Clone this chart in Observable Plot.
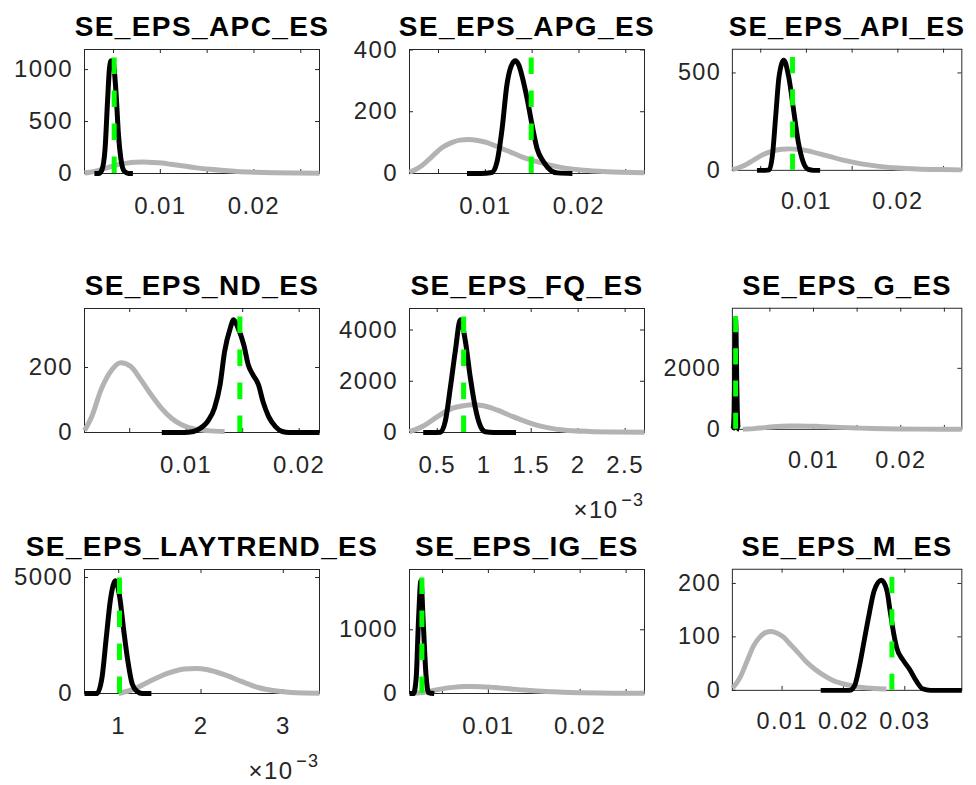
<!DOCTYPE html>
<html><head><meta charset="utf-8">
<script src="https://cdn.jsdelivr.net/npm/d3@7"></script>
<script src="https://cdn.jsdelivr.net/npm/@observablehq/plot@0.6"></script>
<style>
html,body{margin:0;padding:0;background:#fff;}
#fig{position:relative;width:976px;height:785px;overflow:hidden;background:#fff;}
.panel{position:absolute;}
.panel svg{overflow:visible;}
.panel svg text{letter-spacing:1.4px;}
</style></head><body><div id="fig"></div>
<script>
// ---------- titles ----------
const titles = ["SE_EPS_APC_ES","SE_EPS_APG_ES","SE_EPS_API_ES","SE_EPS_ND_ES","SE_EPS_FQ_ES","SE_EPS_G_ES","SE_EPS_LAYTREND_ES","SE_EPS_IG_ES","SE_EPS_M_ES"];

// ---------- priors (grey) ----------
// shared prior used by APC, APG, API, G, IG, M
const priorA_x = [0.0019,0.0025,0.0032,0.0043,0.0054,0.0064,0.0073,0.0082,0.0092,0.0102,0.0111,0.0125,0.0139,0.0153,0.0168,0.0182,0.0200,0.0221,0.0246,0.0270];
const priorA_y = [4,12,25,55,84,100,108,110,107,100,89,72,54,40,28,19,12,7,4,2.5];
const priorND_x = [0.0010,0.0017,0.0024,0.0032,0.0042,0.0051,0.0060,0.0069,0.0078,0.0087,0.0096,0.0107,0.0122,0.0134];
const priorND_y = [6,54,126,182,215,203,162,116,75,44,24,11,5,3];
// FQ and LAYTREND in units of 1e-3
const priorFQ_x = [0.205,0.357,0.499,0.64,0.781,0.87,0.993,1.134,1.275,1.416,1.558,1.70,1.84,2.12,2.41,2.706];
const priorFQ_y = [30,262,613,914,1043,1082,1043,880,665,460,285,170,100,40,20,10];
const priorLAY_x = [1.0,1.184,1.388,1.592,1.796,1.939,2.082,2.285,2.49,2.694,2.897,3.1,3.44];
const priorLAY_y = [0,188,549,866,1056,1083,1026,810,520,260,117,43,10];

// ---------- posteriors (black) ----------
const postAPC_x = [0.00296,0.0034,0.00375,0.0041,0.00436,0.00457,0.00475,0.0050,0.00528,0.00553,0.00578,0.00614,0.0066,0.00707];
const postAPC_y = [0,0,33,242,694,1016,1085,1049,759,372,145,23,1,0];
const postAPG_x = [0.00804,0.0095,0.0107,0.01125,0.01179,0.0123,0.01267,0.0132,0.01357,0.0139,0.01446,0.0150,0.01553,0.01624,0.0170,0.0177,0.0193];
const postAPG_y = [0,0,3,38,145,286,340,365,351,318,243,156,80,37,10,2,0];
const postAPI_x = [0.00459,0.0055,0.00593,0.00628,0.00664,0.0070,0.00753,0.00806,0.00859,0.00912,0.00965,0.0102,0.0108,0.0115];
const postAPI_y = [0,0,2,76,278,480,565,480,312,143,42,5,0,0];
const postND_x = [0.00784,0.0095,0.0102,0.0110,0.0119,0.0125,0.0130,0.0134,0.0139,0.0142,0.0146,0.0151,0.0155,0.0159,0.0164,0.0168,0.0173,0.0179,0.0185,0.0191,0.0218];
const postND_y = [0,0,1,8,34,75,147,249,321,347,321,270,208,178,147,95,49,18,3,0,0];
const postFQ_x = [0.351,0.45,0.534,0.587,0.64,0.693,0.746,0.799,0.852,0.905,0.958,1.01,1.1,1.339];
const postFQ_y = [0,0,10,457,1758,3191,4400,3582,2148,977,262,30,0,0];
const postG_x = [0.0007,0.0008,0.0009,0.00097,0.00103,0.00108,0.00113,0.0012,0.0013,0.0014,0.0015];
const postG_y = [0,60,600,2200,3400,3610,3100,1700,350,20,0];
const postLAY_x = [0.584,0.735,0.797,0.849,0.898,0.96,1.012,1.061,1.11,1.164,1.225,1.286,1.397];
const postLAY_y = [0,0,693,2425,4014,4860,4157,2715,1416,407,87,0,0];
const postIG_x = [0.00141,0.00185,0.00214,0.00239,0.00265,0.00293,0.0032,0.00348,0.0041];
const postIG_y = [0,0,252,1146,1769,1040,306,15,0];
const postM_x = [0.0163,0.0210,0.0218,0.0226,0.0234,0.0242,0.0250,0.0262,0.0271,0.0276,0.0282,0.0287,0.0297,0.0308,0.0319,0.0329,0.0342,0.0393];
const postM_y = [0,0,8,45,94,143,186,206,186,149,106,79,57,39,17,3,0,0];

// ---------- posterior modes (green dashed) ----------
const modes = [0.00507,0.0149,0.00848,0.01475,0.781,0.00107,1.009,0.00276,0.0279];

// ---------- ticks ----------
const xTicksSmall = [0.005,0.01,0.015,0.02,0.025];
const xLabelsSmall = ["","0.01","","0.02",""];
const xTicksND = [0.005,0.01,0.015,0.02];
const xLabelsND = ["","0.01","","0.02"];
const xTicksFQ = [0.5,1,1.5,2,2.5];
const xLabelsFQ = ["0.5","1","1.5","2","2.5"];
const xTicksLAY = [1,2,3];
const xLabelsLAY = ["1","2","3"];
const xTicksM = [0.01,0.02,0.03];
const xLabelsM = ["0.01","0.02","0.03"];
const yTicksAPC = [0,500,1000], yLabelsAPC = ["0","500","1000"];
const yTicksAPG = [0,200,400], yLabelsAPG = ["0","200","400"];
const yTicksAPI = [0,500], yLabelsAPI = ["0","500"];
const yTicksND = [0,200], yLabelsND = ["0","200"];
const yTicksFQ = [0,2000,4000], yLabelsFQ = ["0","2000","4000"];
const yTicksG = [0,2000], yLabelsG = ["0","2000"];
const yTicksLAY = [0,5000], yLabelsLAY = ["0","5000"];
const yTicksIG = [0,1000], yLabelsIG = ["0","1000"];
const yTicksM = [0,100,200], yLabelsM = ["0","100","200"];
const exponentLabel = ["×10", "−3"];

// ---------- panel table ----------
const panels = [
  {prior:[priorA_x,priorA_y], post:[postAPC_x,postAPC_y], xt:[xTicksSmall,xLabelsSmall], yt:[yTicksAPC,yLabelsAPC]},
  {prior:[priorA_x,priorA_y], post:[postAPG_x,postAPG_y], xt:[xTicksSmall,xLabelsSmall], yt:[yTicksAPG,yLabelsAPG]},
  {prior:[priorA_x,priorA_y], post:[postAPI_x,postAPI_y], xt:[xTicksSmall,xLabelsSmall], yt:[yTicksAPI,yLabelsAPI]},
  {prior:[priorND_x,priorND_y], post:[postND_x,postND_y], xt:[xTicksND,xLabelsND], yt:[yTicksND,yLabelsND]},
  {prior:[priorFQ_x,priorFQ_y], post:[postFQ_x,postFQ_y], xt:[xTicksFQ,xLabelsFQ], yt:[yTicksFQ,yLabelsFQ], exp:true},
  {prior:[priorA_x,priorA_y], post:[postG_x,postG_y], xt:[xTicksSmall,xLabelsSmall], yt:[yTicksG,yLabelsG]},
  {prior:[priorLAY_x,priorLAY_y], post:[postLAY_x,postLAY_y], xt:[xTicksLAY,xLabelsLAY], yt:[yTicksLAY,yLabelsLAY], exp:true},
  {prior:[priorA_x,priorA_y], post:[postIG_x,postIG_y], xt:[xTicksSmall,xLabelsSmall], yt:[yTicksIG,yLabelsIG]},
  {prior:[priorA_x,priorA_y], post:[postM_x,postM_y], xt:[xTicksM,xLabelsM], yt:[yTicksM,yLabelsM]}
];

// ---------- layout ----------
const colLeft = [84, 409, 734], rowTop = [49, 308, 569];
const W = 235, H = 124;
const ml = 90, mr = 15, mt = 10, mb = 100;
const axisColor = "#262626";
const font = "'Liberation Sans', Arial, Helvetica, sans-serif";
const fig = document.getElementById("fig");

panels.forEach((p, i) => {
  const col = i % 3, row = Math.floor(i / 3);
  const prior = p.prior[0].map((x, k) => ({x, y: p.prior[1][k]}));
  const post = p.post[0].map((x, k) => ({x, y: p.post[1][k]}));
  const xdom = d3.extent([...p.prior[0], ...p.post[0]]);
  const ytop = 1.1 * d3.max([...p.prior[1], ...p.post[1]]);
  const xl = p.xt[0].map((t, k) => ({t, s: p.xt[1][k]})).filter(d => d.s);
  const yl = p.yt[0].map((t, k) => ({t, s: p.yt[1][k]}));
  const lineOpts = {x: "x", y: "y", strokeWidth: 5, curve: "monotone-x", strokeLinecap: "butt", strokeLinejoin: "round"};
  const marks = [
    Plot.frame({stroke: axisColor, strokeWidth: 1}),
    Plot.tickX(p.xt[0], {x: d => d, stroke: axisColor, insetTop: H - 4}),
    Plot.tickX(p.xt[0], {x: d => d, stroke: axisColor, insetBottom: H - 4}),
    Plot.tickY(p.yt[0], {y: d => d, stroke: axisColor, insetRight: W - 4}),
    Plot.tickY(p.yt[0], {y: d => d, stroke: axisColor, insetLeft: W - 4}),
    Plot.line(prior, {...lineOpts, stroke: "#b3b3b3"}),
    Plot.line(post, {...lineOpts, stroke: "#000000"}),
    Plot.ruleX([modes[i]], {x: d => d, y1: () => 0, y2: () => ytop, stroke: "#00ff00", strokeWidth: 5, strokeDasharray: "16.5,16.5", strokeLinecap: "butt"}),
    Plot.text(xl, {x: "t", text: "s", frameAnchor: "bottom", dy: 23, lineAnchor: "top", fontSize: 24, fill: axisColor}),
    Plot.text(yl, {y: "t", text: "s", frameAnchor: "left", dx: -11.5, textAnchor: "end", lineAnchor: "middle", fontSize: 24, fill: axisColor}),
    Plot.text([titles[i]], {text: d => d, frameAnchor: "top", dy: -14, lineAnchor: "bottom", fontSize: 28, fontWeight: "bold", fill: "#000000"})
  ];
  if (p.exp) {
    marks.push(Plot.text([exponentLabel[0]], {text: d => d, frameAnchor: "bottom-right", dx: -26, dy: 85, textAnchor: "end", lineAnchor: "bottom", fontSize: 24, fill: axisColor}));
    marks.push(Plot.text([exponentLabel[1]], {text: d => d, frameAnchor: "bottom-right", dx: 0, dy: 73, textAnchor: "end", lineAnchor: "bottom", fontSize: 18, fill: axisColor}));
  }
  const chart = Plot.plot({
    width: ml + W + mr, height: mt + H + mb,
    marginLeft: ml, marginRight: mr, marginTop: mt, marginBottom: mb,
    x: {domain: xdom, axis: null},
    y: {domain: [0, ytop], axis: null},
    style: {background: "transparent", overflow: "visible", fontFamily: font, fontSize: "24px", color: axisColor},
    marks
  });
  const div = document.createElement("div");
  div.className = "panel";
  div.style.left = (colLeft[col] - ml) + "px";
  div.style.top = (rowTop[row] - mt) + "px";
  div.appendChild(chart);
  fig.appendChild(div);
});
</script></body></html>
